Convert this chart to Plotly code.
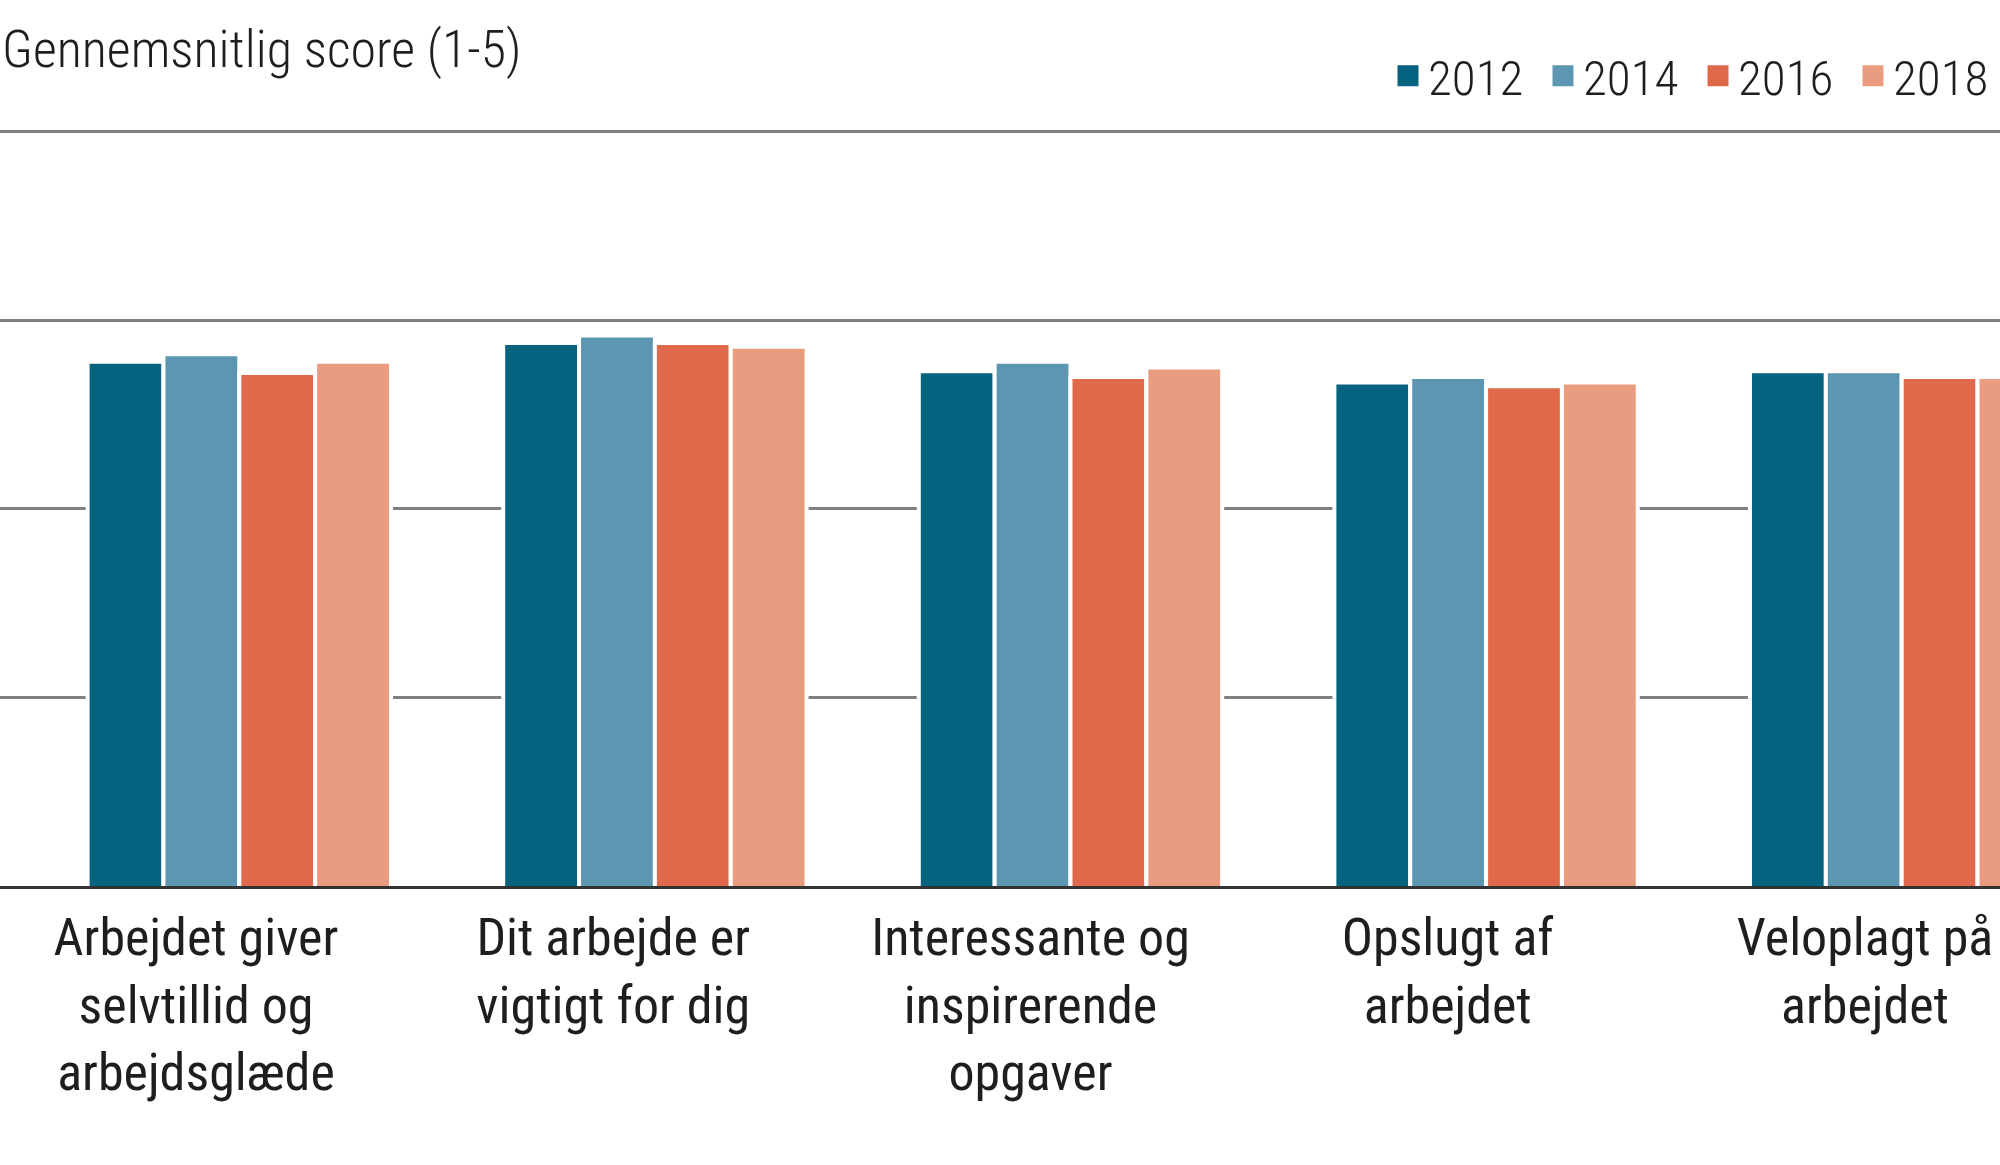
import plotly.graph_objects as go

# ---- data ----
categories = [
    "Arbejdet giver<br>selvtillid og<br>arbejdsglæde",
    "Dit arbejde er<br>vigtigt for dig",
    "Interessante og<br>inspirerende<br>opgaver",
    "Opslugt af<br>arbejdet",
    "Veloplagt på<br>arbejdet",
]
years = ["2012", "2014", "2016", "2018"]
v2012 = [3.78, 3.88, 3.73, 3.67, 3.73]
v2014 = [3.82, 3.92, 3.78, 3.70, 3.73]
v2016 = [3.72, 3.88, 3.70, 3.65, 3.70]
v2018 = [3.78, 3.86, 3.75, 3.67, 3.70]
series = [v2012, v2014, v2016, v2018]
colors = ["#05637f", "#5d96b0", "#e0694b", "#ea9c81"]
ytick_vals = [1, 2, 3, 4, 5]
y_title = "Gennemsnitlig score (1-5)"

FONT = "Roboto Condensed, Liberation Sans Narrow, Arial Narrow, Roboto, sans-serif"
TXT = "#1e1e1e"

fig = go.Figure()
for name, vals, col in zip(years, series, colors):
    fig.add_trace(go.Bar(
        x=categories, y=vals, name=name, legendgroup=name, showlegend=False,
        marker=dict(color=col, line=dict(color="white", width=4)),
        hoverinfo="skip",
    ))
# legend entries (larger square symbols)
for name, col in zip(years, colors):
    fig.add_trace(go.Scatter(
        x=[None], y=[None], name=name, legendgroup=name, mode="markers",
        marker=dict(symbol="square", size=16, color=col, line=dict(color=col, width=5)),
        hoverinfo="skip",
    ))

# invisible helper trace so the label axis is drawn
fig.add_trace(go.Scatter(
    x=list(range(len(categories))), y=[None] * len(categories),
    xaxis="x2", yaxis="y", mode="markers", showlegend=False, hoverinfo="skip",
))

fig.update_layout(
    width=2000, height=1165,
    margin=dict(l=0, r=0, t=128, b=279, autoexpand=False),
    paper_bgcolor="white", plot_bgcolor="white",
    barmode="group", bargap=0.27, bargroupgap=0,
    font=dict(family=FONT, color=TXT),
    annotations=[dict(
        text=y_title, font=dict(family=FONT, size=52, color=TXT, weight=300),
        x=0, xref="paper", xanchor="left",
        y=1.1037, yref="paper", yanchor="middle", showarrow=False,
    )],
    legend=dict(
        orientation="h", x=0.694, xanchor="left", y=1.0687, yanchor="middle",
        font=dict(family=FONT, size=49, color=TXT, weight=300),
        entrywidth=110, entrywidthmode="pixels", traceorder="normal",
        bgcolor="rgba(0,0,0,0)", itemwidth=30,
    ),
    xaxis=dict(
        type="category", range=[-0.5758, 4.2366],
        showticklabels=False, ticks="", showgrid=False, zeroline=False,
        showline=True, linecolor="#333333", linewidth=3,
    ),
    xaxis2=dict(
        type="linear", overlaying="x", anchor="y", side="bottom",
        range=[-0.4697, 4.3236],
        tickmode="array", tickvals=list(range(len(categories))), ticktext=categories,
        ticks="", showgrid=False, zeroline=False, showline=False,
        tickfont=dict(family=FONT, size=52, color=TXT),
        ticklabelstandoff=16, ticklabeloverflow="allow",
    ),
    yaxis=dict(
        range=[1, 5.02], tickmode="array", tickvals=ytick_vals,
        showticklabels=False, ticks="", zeroline=False, showline=False,
        showgrid=True, gridcolor="#7f7f7f", gridwidth=3,
    ),
)

fig.write_html("out.html", config={"displayModeBar": False},
               post_script="document.body.style.margin='0';")
